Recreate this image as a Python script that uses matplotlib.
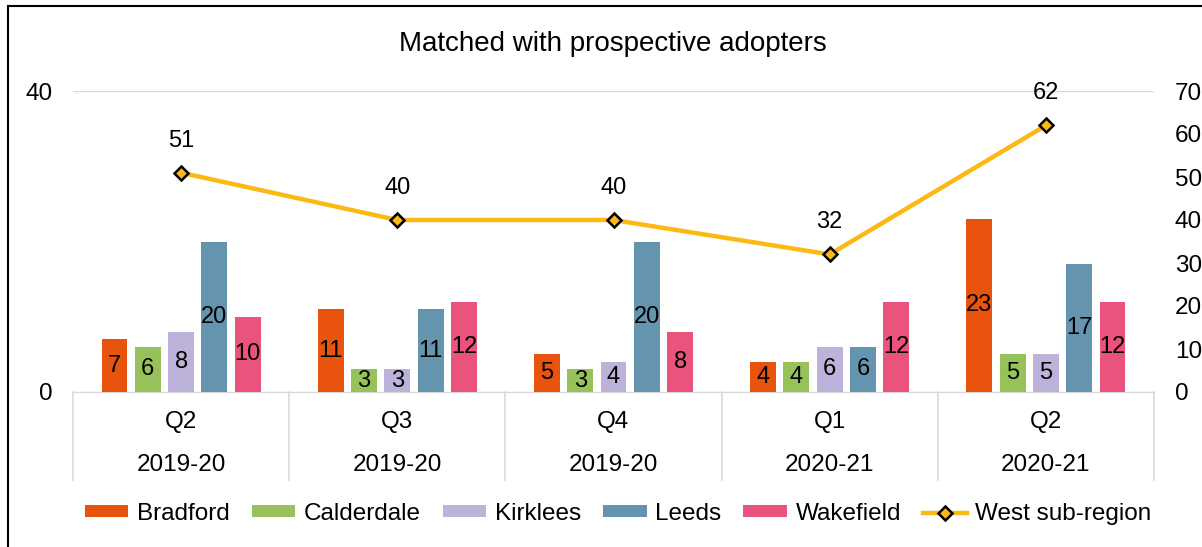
import matplotlib.pyplot as plt
import numpy as np
from matplotlib.patches import Rectangle
from matplotlib.lines import Line2D

plt.rcParams['font.family'] = ['Liberation Sans', 'DejaVu Sans']

quarters = ['Q2', 'Q3', 'Q4', 'Q1', 'Q2']
years = ['2019-20', '2019-20', '2019-20', '2020-21', '2020-21']
areas = ['Bradford', 'Calderdale', 'Kirklees', 'Leeds', 'Wakefield']
bradford = [7, 11, 5, 4, 23]
calderdale = [6, 3, 3, 4, 5]
kirklees = [8, 3, 4, 6, 5]
leeds = [20, 11, 20, 6, 17]
wakefield = [10, 12, 8, 12, 12]
west = [51, 40, 40, 32, 62]

colours = ['#E8540E', '#97C25A', '#BDB3DA', '#6595AE', '#EA537B']
line_col = '#FDB913'
fs = 17.5

fig = plt.figure(figsize=(12.02, 5.47), dpi=100)
ax = fig.add_axes([73/1202, 1-392/547, (1154-73)/1202, (392-91)/547])
ax2 = ax.twinx()

x = np.arange(len(quarters))
pitch = 0.154
width = 0.12
series = [bradford, calderdale, kirklees, leeds, wakefield]
for i, (name, vals) in enumerate(zip(areas, series)):
    pos = x + (i - 2) * pitch
    bars = ax.bar(pos, vals, width, color=colours[i], label=name, zorder=3)
    for b, v in zip(bars, vals):
        ax.text(b.get_x() + b.get_width()/2, v/2, str(v), ha='center', va='center',
                fontsize=17, color='black', zorder=5)

ax.set_xlim(-0.5, 4.5)
ax.set_ylim(0, 40)
ax.set_yticks([0, 40])
ax.yaxis.grid(True, color='#D9D9D9', lw=1)
ax.set_axisbelow(True)
ax.tick_params(axis='y', length=0, labelsize=fs, pad=15)
ax.set_xticks([])
for s in ['top', 'right', 'left']:
    ax.spines[s].set_visible(False)
ax.spines['bottom'].set_color('#D9D9D9')

ax2.plot(x, west, color=line_col, lw=3.2, marker='D', markersize=7,
         markerfacecolor=line_col, markeredgecolor='black', markeredgewidth=1.8,
         label='West sub-region', zorder=6)
for xi, v in zip(x, west):
    ax2.annotate(str(v), (xi, v), xytext=(0, 23), textcoords='offset points',
                 ha='center', va='center', fontsize=17)
ax2.set_ylim(0, 70)
ax2.set_yticks(range(0, 71, 10))
ax2.tick_params(axis='y', length=0, labelsize=fs, pad=15)
for s in ax2.spines.values():
    s.set_visible(False)

# two-level category labels with separators
trans = ax.get_xaxis_transform()
for xi in x:
    ax.text(xi, -0.099, quarters[xi], transform=trans, ha='center', va='center', fontsize=fs)
    ax.text(xi, -0.243, years[xi], transform=trans, ha='center', va='center', fontsize=fs)
for xs in np.arange(-0.5, 5, 1):
    ax.add_line(Line2D([xs, xs], [0, -0.292], transform=trans, color='#D9D9D9',
                       lw=1.2, clip_on=False))

fig.text(613/1202, 1-44/547, 'Matched with prospective adopters', ha='center',
         va='center', fontsize=20)

h1, l1 = ax.get_legend_handles_labels()
h2, l2 = ax2.get_legend_handles_labels()
fig.legend(h1 + h2, l1 + l2, loc='center', bbox_to_anchor=(618/1202, 1-514/547),
           ncol=6, frameon=False, fontsize=fs, handlelength=1.8, handleheight=0.4,
           columnspacing=0.9, handletextpad=0.35, borderpad=0)

fig.patches.append(Rectangle((8/1202, -0.1), 1.2, 1.1 - 6/547, transform=fig.transFigure,
                             fill=False, edgecolor='black', lw=1.5))

fig.savefig('out.png', dpi=100)
